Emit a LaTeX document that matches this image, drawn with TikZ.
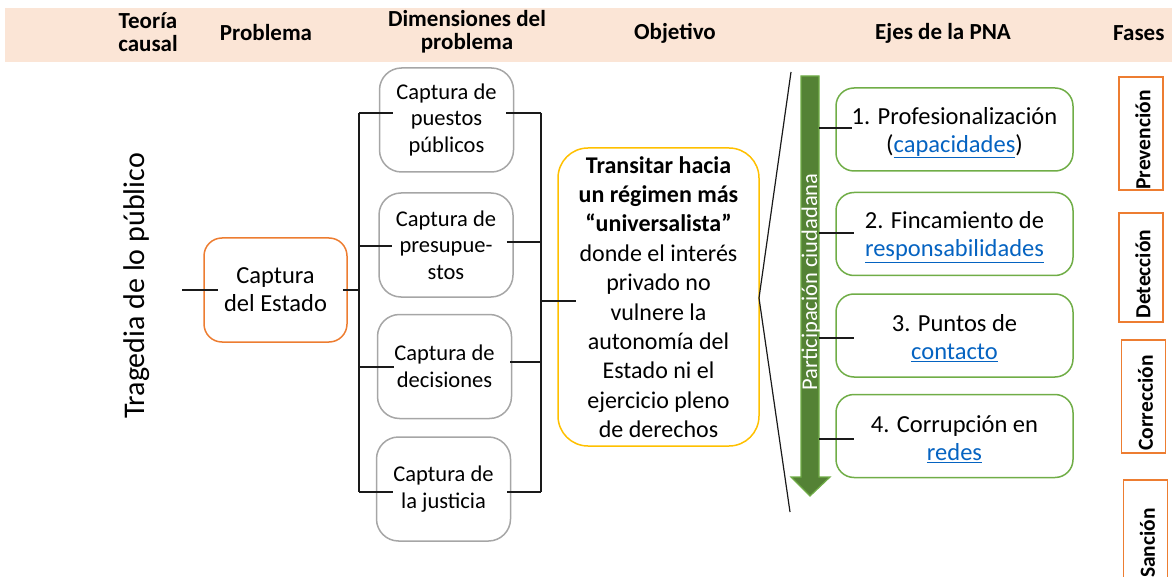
\documentclass[tikz,border=0pt]{standalone}
\usepackage{fontspec}
\setmainfont{Carlito}
\definecolor{hdr}{HTML}{FBE5D6}
\definecolor{orng}{HTML}{ED7D31}
\definecolor{grayb}{HTML}{A6A6A6}
\definecolor{yell}{HTML}{FFC000}
\definecolor{grn}{HTML}{70AD47}
\definecolor{dgrn}{HTML}{548235}
\definecolor{linkb}{HTML}{0563C1}
\definecolor{ln}{HTML}{1A1A1A}
\newcommand{\lnk}[1]{{\color{linkb}\underline{#1}}}
\tikzset{
  hdrtext/.style={font=\fontsize{23}{23}\selectfont\bfseries, align=center, inner sep=0pt},
  basebox/.style={draw, rounded corners=20pt, line width=1.5pt, inner sep=0pt, align=center},
  cebox/.style={basebox, draw=orng, rounded corners=18pt, font=\fontsize{24.5}{28}\selectfont},
  dimbox/.style={basebox, draw=grayb, rounded corners=22pt, minimum width=134pt, minimum height=104pt, font=\fontsize{22.5}{26.5}\selectfont},
  objbox/.style={basebox, draw=yell, rounded corners=30pt, font=\fontsize{24}{29.4}\selectfont},
  ejebox/.style={basebox, draw=grn, rounded corners=18pt, minimum width=237pt, minimum height=83pt},
  ejetext/.style={inner sep=0pt, align=center, font=\fontsize{24.5}{28}\selectfont},
  fasebox/.style={draw=orng, line width=1.5pt, rotate=90, inner sep=0pt, minimum height=44pt},
  fasetext/.style={rotate=90, inner sep=0pt, font=\fontsize{21.5}{25}\selectfont\bfseries},
  conn/.style={draw=ln, line width=1.5pt},
}
\begin{document}
\begin{tikzpicture}[x=1pt,y=-1pt]
\useasboundingbox (0,0) rectangle (1172,577);
\clip (0,0) rectangle (1172,577);
% header band
\fill[hdr] (5,8) rectangle (1172,62);
\node[hdrtext] (h1) at (148,32) {Teoría\\causal};
\node[hdrtext] (h2) at (266,33) {Problema};
\node[hdrtext] (h3) at (467,32) {Dimensiones del\\problema};
\node[hdrtext] (h4) at (675,33) {Objetivo};
\node[hdrtext] (h5) at (943,33) {Ejes de la PNA};
\node[hdrtext, anchor=west] (h6) at (1113,33) {Fases};

% theory
\node[rotate=90, inner sep=0pt, font=\fontsize{30}{36}\selectfont] (tr) at (137,286) {Tragedia de lo público};
\coordinate (t1) at (182,290);

% problem
\node[cebox, minimum width=143pt, minimum height=104pt] (ce) at (275.5,290) {Captura\\del Estado};
\draw[conn] (t1) -- ([xshift=15pt]ce.west);

% buses
\coordinate (bL1) at (359,113);
\coordinate (bL2) at (359,246);
\coordinate (bL3) at (359,367);
\coordinate (bL4) at (359,492);
\coordinate (bR1) at (541,113);
\coordinate (bR2) at (541,242);
\coordinate (bR3) at (541,362);
\coordinate (bR4) at (541,492);
\coordinate (bRo) at (541,301);
\draw[conn] (bL1) -- (bL4);
\draw[conn] (bR1) -- (bR4);
\draw[conn] ([xshift=-5pt]ce.east) -- (ce.east -| bL1);

% dimensions
\node[dimbox] (d1) at (446.5,120) {Captura de\\puestos\\públicos};
\node[dimbox] (d2) at (446,245) {Captura de\\presupue-\\stos};
\node[dimbox] (d3) at (444.5,366.5) {Captura de\\decisiones};
\node[dimbox] (d4) at (443.5,489) {Captura de\\la justicia};
\draw[conn] (bL1) -- ([xshift=14pt]d1.west |- bL1);
\draw[conn] (bL2) -- ([xshift=14pt]d2.west |- bL2);
\draw[conn] (bL3) -- ([xshift=17pt]d3.west |- bL3);
\draw[conn] (bL4) -- ([xshift=17pt]d4.west |- bL4);
\draw[conn] ([xshift=-8pt]d1.east |- bR1) -- (bR1);
\draw[conn] ([xshift=-7pt]d2.east |- bR2) -- (bR2);
\draw[conn] ([xshift=-2pt]d3.east |- bR3) -- (bR3);
\draw[conn] ([xshift=-4pt]d4.east |- bR4) -- (bR4);

% objective
\node[objbox, minimum width=201pt, minimum height=298pt] (ob) at (658.5,297) {\textbf{Transitar hacia}\\\textbf{un régimen más}\\\textbf{“universalista”}\\donde el interés\\privado no\\vulnere la\\autonomía del\\Estado ni el\\ejercicio pleno\\de derechos};
\draw[conn] (bRo) -- ([xshift=19pt]ob.west |- bRo);

% bracket
\coordinate (k1) at (791,72);
\coordinate (k2) at (759,298);
\coordinate (k3) at (790,512);
\draw[draw=ln, line width=1.2pt] (k1) -- (k2) -- (k3);

% arrow
\filldraw[fill=dgrn, draw=grn, line width=1.2pt, line join=miter]
  (801,76) -- (819,76) -- (819,477) -- (830,477) -- (810,496) -- (791,477) -- (801,477) -- cycle;
\node[rotate=90, text=white, inner sep=0pt, font=\fontsize{22.5}{26}\selectfont] (pc) at (811,282) {Participación ciudadana};
\coordinate (s1) at (819,128);
\coordinate (s2) at (819,233);
\coordinate (s3) at (819,338);
\coordinate (s4) at (819,439);

% axes
\node[ejebox] (g1) at (954.5,129.5) {};
\node[ejebox] (g2) at (954.5,234) {};
\node[ejebox] (g3) at (954.5,335.5) {};
\node[ejebox] (g4) at (954.5,436) {};
\node[ejetext] (e1) at ([yshift=-3pt]g1.center) {1. Profesionalización\\(\lnk{capacidades})};
\node[ejetext] (e2) at ([yshift=-3pt]g2.center) {2. Fincamiento de\\\lnk{responsabilidades}};
\node[ejetext] (e3) at ([yshift=-3pt]g3.center) {3. Puntos de\\\lnk{contacto}};
\node[ejetext] (e4) at ([yshift=-3pt]g4.center) {4. Corrupción en\\\lnk{redes}};
\draw[conn] (s1) -- ([xshift=17pt]g1.west |- s1);
\draw[conn] (s2) -- ([xshift=19pt]g2.west |- s2);
\draw[conn] (s3) -- ([xshift=19pt]g3.west |- s3);
\draw[conn] (s4) -- ([xshift=19pt]g4.west |- s4);

% phases
\node[fasebox, minimum width=113pt] (f1) at (1141,133.5) {};
\node[fasebox, minimum width=109pt] (f2) at (1141,267.5) {};
\node[fasebox, minimum width=113pt] (f3) at (1143.5,396.5) {};
\node[fasebox, minimum width=113pt] (f4) at (1145.5,536.5) {};
\node[fasetext] (p1) at ([xshift=2pt,yshift=-6.5pt]f1.center) {Prevención};
\node[fasetext] (p2) at ([xshift=2pt,yshift=-6.5pt]f2.center) {Detección};
\node[fasetext] (p3) at ([xshift=2pt,yshift=-6.5pt]f3.center) {Corrección};
\node[fasetext] (p4) at ([xshift=2pt,yshift=-6.5pt]f4.center) {Sanción};
\end{tikzpicture}
\end{document}
